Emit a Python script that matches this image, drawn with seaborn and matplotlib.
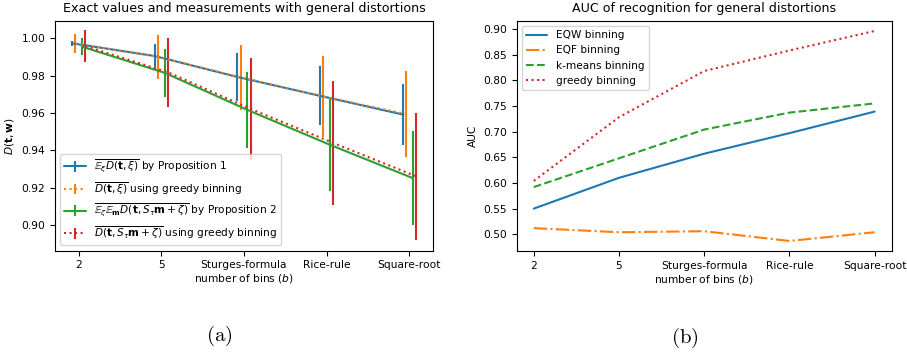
import numpy as np
import pandas as pd
import seaborn as sns
import matplotlib.pyplot as plt

sns.set_theme(style="ticks", palette="tab10",
              rc={"text.color": "black", "axes.labelcolor": "black",
                  "xtick.color": "black", "ytick.color": "black",
                  "axes.edgecolor": "black",
                  "xtick.major.size": 3.5, "ytick.major.size": 3.5,
                  "xtick.major.width": 0.8, "ytick.major.width": 0.8})
plt.rcParams['font.family'] = ['DejaVu Sans']
plt.rcParams['mathtext.fontset'] = 'dejavusans'

# data
bins = ["2", "5", "Sturges-formula\nnumber of bins ($b$)", "Rice-rule", "Square-root"]

# (a) exact values and measurements
prop1_mean = [0.9973, 0.9905, 0.9793, 0.9692, 0.9592]
prop1_err = [0.0014, 0.0067, 0.0127, 0.0158, 0.0164]
greedy1_mean = [0.9973, 0.9900, 0.9791, 0.9688, 0.9595]
greedy1_err = [0.0050, 0.0118, 0.0173, 0.0218, 0.0228]
prop2_mean = [0.9955, 0.9815, 0.9617, 0.9430, 0.9252]
prop2_err = [0.0045, 0.0130, 0.0204, 0.0245, 0.0252]
greedy2_mean = [0.9958, 0.9818, 0.9622, 0.9440, 0.9262]
greedy2_err = [0.0084, 0.0185, 0.0272, 0.0330, 0.0340]

# (b) AUC
auc_eqw = [0.550, 0.610, 0.657, 0.697, 0.739]
auc_eqf = [0.512, 0.504, 0.506, 0.487, 0.504]
auc_kmeans = [0.592, 0.648, 0.704, 0.737, 0.755]
auc_greedy = [0.604, 0.728, 0.818, 0.858, 0.896]

fig = plt.figure(figsize=(9.07, 3.54), dpi=100)
ax1 = fig.add_axes([0.0606, 0.2918, 0.4168, 0.6497])
ax2 = fig.add_axes([0.5697, 0.2910, 0.4134, 0.6505])

pal = sns.color_palette("tab10")
x = np.arange(len(bins))

series_a = [
    (prop1_mean, prop1_err, -0.08, pal[0], "-",
     r"$\overline{\mathbb{E}_\xi D(\mathbf{t},\xi)}$ by Proposition 1"),
    (greedy1_mean, greedy1_err, -0.04, pal[1], ":",
     r"$\overline{D(\mathbf{t},\xi)}$ using greedy binning"),
    (prop2_mean, prop2_err, 0.04, pal[2], "-",
     r"$\overline{\mathbb{E}_\zeta \mathbb{E}_\mathbf{m} D(\mathbf{t},S_\tau\mathbf{m}+\zeta)}$ by Proposition 2"),
    (greedy2_mean, greedy2_err, 0.08, pal[3], ":",
     r"$\overline{D(\mathbf{t},S_\tau\mathbf{m}+\zeta)}$ using greedy binning"),
]
for mean, err, off, col, ls, lab in series_a:
    ax1.errorbar(x + off, mean, yerr=err, color=col, linestyle=ls,
                 linewidth=1.5, elinewidth=1.5, label=lab)

ax1.set_xticks(x)
ax1.set_xticklabels(bins)
ax1.set_yticks([0.90, 0.92, 0.94, 0.96, 0.98, 1.00])
ax1.set_ylim(0.8863, 1.0094)
ax1.set_ylabel(r"$D(\mathbf{t},\mathbf{w})$")
ax1.set_title("Exact values and measurements with general distortions")
ax1.legend(loc="lower left", fontsize=7.6)

# (b)
df = pd.DataFrame({
    "bins": np.tile(x, 4),
    "AUC": auc_eqw + auc_eqf + auc_kmeans + auc_greedy,
    "method": ["EQW binning"] * 5 + ["EQF binning"] * 5 +
              ["k-means binning"] * 5 + ["greedy binning"] * 5,
})
styles = {"EQW binning": "-", "EQF binning": "-.",
          "k-means binning": "--", "greedy binning": ":"}
for i, (m, ls) in enumerate(styles.items()):
    sns.lineplot(data=df[df.method == m], x="bins", y="AUC", ax=ax2,
                 color=pal[i], linestyle=ls, linewidth=1.5, label=m)

ax2.set_xticks(x)
ax2.set_xticklabels(bins)
ax2.set_xlabel("")
ax2.set_xlim(-0.2, 4.2)
ax2.set_ylim(0.4675, 0.916)
ax2.set_yticks([0.50, 0.55, 0.60, 0.65, 0.70, 0.75, 0.80, 0.85, 0.90])
ax2.set_title("AUC of recognition for general distortions")
ax2.legend(loc="upper left", fontsize=7.6)

for ax in (ax1, ax2):
    ax.tick_params(labelsize=7.7)
    ax.yaxis.label.set_size(7.7)
    ax.title.set_size(9.1)
    for s in ax.spines.values():
        s.set_linewidth(0.8)

plt.rcParams['mathtext.fontset'] = 'cm'
fig.text(0.2415, 0.05, r"$\mathrm{(a)}$", ha="center", va="center", fontsize=15)
fig.text(0.7552, 0.045, r"$\mathrm{(b)}$", ha="center", va="center", fontsize=15)

fig.savefig("out.png", dpi=100)
